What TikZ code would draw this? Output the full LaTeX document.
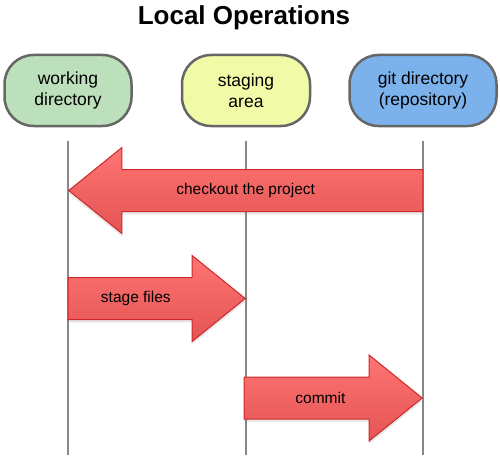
\documentclass[tikz,border=0pt]{standalone}
\usepackage{fontspec}
\setmainfont{Liberation Sans}
\usetikzlibrary{positioning,calc,shapes.arrows,shadows}

\definecolor{wdgreen}{RGB}{188,224,187}
\definecolor{sayellow}{RGB}{241,250,167}
\definecolor{gdblue}{RGB}{124,178,236}
\definecolor{boxgray}{RGB}{102,102,102}
\definecolor{linegray}{RGB}{135,135,135}
\definecolor{arrowtop}{RGB}{255,116,116}
\definecolor{arrowbot}{RGB}{228,84,84}
\definecolor{arrowline}{RGB}{206,40,40}

\tikzset{
  area/.style={draw=boxgray, line width=2.5pt, rounded corners=29pt,
    minimum height=71pt, align=center,
    font=\fontsize{17.5}{21}\selectfont},
  lifeline/.style={draw=linegray, line width=2.5pt},
  oparrow/.style={single arrow, draw=arrowline, line width=1pt,
    top color=arrowtop, bottom color=arrowbot,
    inner sep=20.5pt, single arrow head extend=22pt,
    single arrow tip angle=78, anchor=tip,
    drop shadow={opacity=0.18, shadow xshift=0pt, shadow yshift=-3pt}},
  oplabel/.style={font=\fontsize{15.5}{18}\selectfont}
}

\begin{document}
\begin{tikzpicture}[x=1pt, y=-1pt]
\useasboundingbox (0,0) rectangle (500,460);

% Title
\node[font=\fontsize{26}{30}\selectfont\bfseries, anchor=base] (title) at (244,25) {Local Operations};

% Areas
\node[area, fill=wdgreen, minimum width=127pt] (wd) at (68,90.5) {working\\directory};
\node[area, fill=sayellow, minimum width=128pt, right=48pt of wd] (sa) {staging\\area};
\node[area, fill=gdblue, minimum width=147pt, right=37pt of sa] (gd) {git directory\\(repository)};

% Lifelines
\coordinate (top) at (0,141);
\coordinate (bot) at (0,455);
\foreach \a in {wd,sa,gd}
  \draw[lifeline] (\a.south |- top) -- (\a.south |- bot);

% Operations
\coordinate (row1) at (0,190.5);
\coordinate (row2) at (0,298.5);
\coordinate (row3) at (0,398);

\node[oparrow, shape border rotate=180, minimum height=354pt] (checkout) at (wd.south |- row1) {};
\node[oparrow, minimum height=177pt] (stage) at (sa.south |- row2) {};
\node[oparrow, minimum height=178pt] (commit) at (gd.south |- row3) {};

\node[oplabel] (checkoutlbl) at ($(checkout.tail)!0.5!(checkout.tip)$) {checkout the project};
\node[oplabel, xshift=-21pt] (stagelbl) at ($(stage.tail)!0.5!(stage.tip)$) {stage files};
\node[oplabel, xshift=-13pt] (commitlbl) at ($(commit.tail)!0.5!(commit.tip)$) {commit};

\end{tikzpicture}
\end{document}
